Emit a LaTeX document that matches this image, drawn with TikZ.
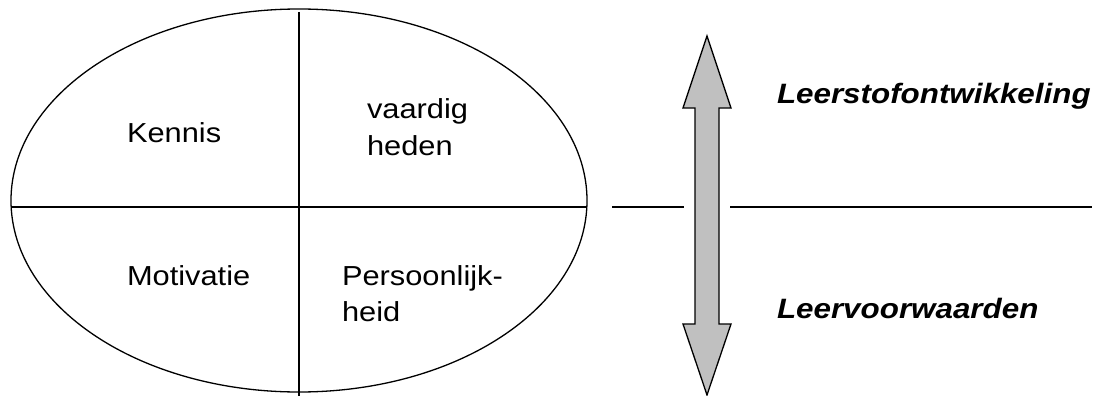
\documentclass[tikz,border=0pt]{standalone}
\usepackage{fontspec}
\setmainfont{Liberation Sans}
\usetikzlibrary{shapes.geometric}
\definecolor{arrowgray}{RGB}{192,192,192}
\tikzset{
  lbl/.style={anchor=base west, inner sep=0pt, outer sep=0pt, font=\fontsize{27.5}{33}\selectfont},
  blbl/.style={anchor=base west, inner sep=0pt, outer sep=0pt, font=\fontsize{28}{33}\selectfont\bfseries\itshape},
  stroke/.style={line width=1.3pt, black},
}
\newcommand{\wide}[1]{\scalebox{1.12}[1]{#1}}
\begin{document}
\begin{tikzpicture}[x=1pt,y=-1pt]
\useasboundingbox (0,0) rectangle (1100,396);
% ellipse
\draw[stroke] (299,200.5) ellipse [x radius=288, y radius=191.5];
\draw[stroke] (11,207) -- (587,207);
\draw[stroke] (299,12) -- (299,396);
% right horizontal segments
\coordinate (l1) at (612,207);
\coordinate (l2) at (684,207);
\coordinate (r1) at (730,207);
\coordinate (r2) at (1092,207);
\draw[stroke] (l1) -- (l2);
\draw[stroke] (r1) -- (r2);
% double arrow
\draw[stroke, fill=arrowgray, line join=miter]
  (707,36) -- (731,108) -- (719,108) -- (719,324) -- (731,324) -- (707,395)
  -- (683,324) -- (695,324) -- (695,108) -- (683,108) -- cycle;
% labels
\node[lbl] (kennis) at (127,142) {\wide{Kennis}};
\node[lbl] (vaardig) at (367,118) {\wide{vaardig}};
\node[lbl] (heden) at (367,155.5) {\wide{heden}};
\node[lbl] (motivatie) at (127,285) {\wide{Motivatie}};
\node[lbl] (persoon) at (342,285) {\wide{Persoonlijk-}};
\node[lbl] (heid) at (342,321) {\wide{heid}};
\node[blbl] (leerstof) at (777,103) {\wide{Leerstofontwikkeling}};
\node[blbl] (leervoor) at (777,318) {\wide{Leervoorwaarden}};
\end{tikzpicture}
\end{document}
